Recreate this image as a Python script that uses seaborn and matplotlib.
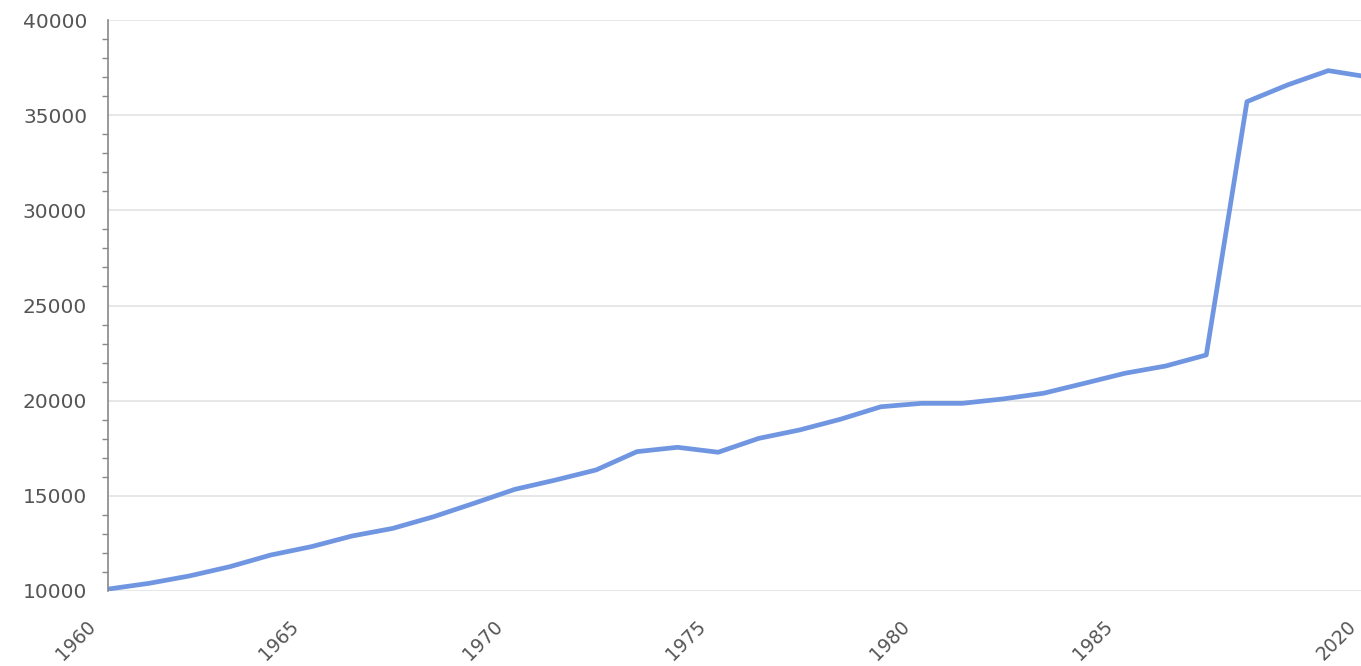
import numpy as np
import pandas as pd
import seaborn as sns
import matplotlib
matplotlib.use("Agg")
import matplotlib.pyplot as plt
from matplotlib.ticker import MultipleLocator
from matplotlib.transforms import ScaledTranslation

# years on a categorical axis (gap between 1987 and 2017 in the source series)
years = list(range(1960, 1988)) + [2017, 2018, 2019, 2020]
values = [10100, 10400, 10790, 11280, 11890, 12330, 12890, 13290, 13900, 14610,
          15340, 15830, 16360, 17320, 17550, 17290, 18020, 18460, 19020, 19680,
          19860, 19860, 20090, 20390, 20910, 21440, 21820, 22400, 35710, 36590,
          37340, 37000]
label_years = [1960, 1965, 1970, 1975, 1980, 1985, 2020]

df = pd.DataFrame({"pos": np.arange(len(years)), "year": years, "value": values})

sns.set_style("white")
plt.rcParams["font.family"] = ["DejaVu Sans"]

fig = plt.figure(figsize=(13.61, 6.66), dpi=100)
# axes runs a few pixels past the right edge of the image, as in the reference crop
ax = fig.add_axes([108 / 1361, 75 / 666, 1261 / 1361, 571 / 666])

sns.lineplot(data=df, x="pos", y="value", color="#7096e2", lw=3.4, ax=ax,
             solid_joinstyle="round")

ax.set_xlim(0, len(years) - 1)
ax.set_ylim(10000, 40000)
ax.yaxis.set_major_locator(MultipleLocator(5000))
ax.yaxis.set_minor_locator(MultipleLocator(1000))
ax.grid(axis="y", color="#e3e3e3", lw=1.2)
ax.set_axisbelow(True)

tick_pos = [years.index(y) for y in label_years]
ax.set_xticks(tick_pos)
ax.set_xticklabels([str(y) for y in label_years], rotation=45, ha="right",
                   rotation_mode="anchor", fontsize=13.5, color="#555555")
ax.tick_params(axis="x", length=0, pad=8)
# nudge the rotated year labels left/down like the reference
shift = ScaledTranslation(-0.22, -0.15, fig.dpi_scale_trans)
for lbl in ax.get_xticklabels():
    lbl.set_transform(lbl.get_transform() + shift)

ax.tick_params(axis="y", which="major", direction="out", length=8, width=1,
               color="#888888", labelsize=14.5, labelcolor="#555555", pad=7)
ax.tick_params(axis="y", which="minor", direction="out", length=4.5, width=1,
               color="#888888", left=True)

for side in ["top", "right", "bottom"]:
    ax.spines[side].set_visible(False)
ax.spines["left"].set_color("#888888")
ax.spines["left"].set_linewidth(1.2)

ax.set_xlabel("")
ax.set_ylabel("")

fig.savefig("out.png", dpi=100)
